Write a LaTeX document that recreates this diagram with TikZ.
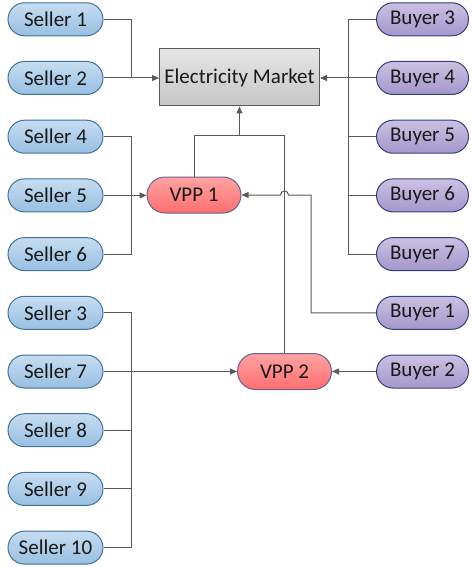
\documentclass[tikz,border=0pt]{standalone}
\usepackage{fontspec}
\setmainfont{Carlito}
\usetikzlibrary{arrows.meta}

\definecolor{sellerTop}{HTML}{C6DDF1}
\definecolor{sellerBot}{HTML}{98BFE2}
\definecolor{sellerLine}{HTML}{41719C}
\definecolor{buyerTop}{HTML}{CBC1E2}
\definecolor{buyerBot}{HTML}{A397CB}
\definecolor{buyerLine}{HTML}{34407F}
\definecolor{vppTop}{HTML}{FFA3A3}
\definecolor{vppBot}{HTML}{FF6E6E}
\definecolor{vppLine}{HTML}{6A628E}
\definecolor{wireGray}{HTML}{5A5A5A}

\tikzset{seller/.style={draw=sellerLine,line width=1,top color=sellerTop,bottom color=sellerBot,
   rounded corners=16.5pt,minimum width=95pt,minimum height=33pt,inner sep=1pt},
 buyer/.style={draw=buyerLine,line width=1,top color=buyerTop,bottom color=buyerBot,
   rounded corners=16.5pt,minimum width=92pt,minimum height=33pt,inner sep=1pt},
 vpp/.style={draw=vppLine,line width=1,top color=vppTop,bottom color=vppBot,
   rounded corners=18pt,minimum width=94pt,minimum height=36pt,inner sep=1pt},
 market/.style={draw=wireGray,line width=1,top color=gray!20,bottom color=gray!45,
   minimum width=160pt,minimum height=57pt,inner sep=1pt},
 wire/.style={draw=wireGray,line width=1},
 feed/.style={wire,-{Triangle[length=7pt,width=6pt]}}}

\begin{document}
\begin{tikzpicture}[x=1pt,y=-1pt,font=\fontsize{21}{24}\selectfont,text=black!90]
\useasboundingbox (0,0) rectangle (471,567);
\foreach \n/\r in {1/0,2/1,4/2,5/3,6/4,3/5,7/6,8/7,9/8,10/9}{
\node[seller] (s\n) at (55.5,{19.3+58.7*\r}) {Seller \n};}
\foreach \n/\r in {3/0,4/1,5/2,6/3,7/4,1/5,2/6}{
\node[buyer] (b\n) at (422.5,{19.3+58.7*\r}) {Buyer \n};}
\node[market] (mkt) at (239.5,77.5) {Electricity Market};
\node[vpp] (vpp1) at (194,195) {VPP 1};
\node[vpp] (vpp2) at (284.5,371.5) {VPP 2};
\coordinate (sbus) at (131,0);
\coordinate (bbus) at (348,0);
\coordinate (b1turn) at (311,0);
\coordinate (join) at (239.5,135);
% sellers 1,2 and buyers 3-7 to the market
\draw[wire] (s1.east) -| (s2.east -| sbus);
\draw[feed] (s2.east) -- (s2.east -| mkt.west);
\draw[wire] (b3.west) -| (b7.west -| bbus) -- (b7.west);
\draw[wire] (b5.west) -- (b5.west -| bbus);
\draw[wire] (b6.west) -- (b6.west -| bbus);
\draw[feed] (b4.west) -- (b4.west -| mkt.east);
% VPP 1
\draw[wire] (s4.east) -| (s6.east -| sbus) -- (s6.east);
\draw[feed] (s5.east) -- (s5.east -| vpp1.west);
\draw[feed] (b1.west) -| (vpp1.east -| b1turn) -- ([xshift=4pt]vpp1.east -| vpp2.north)
 arc[start angle=0,end angle=180,radius=4pt] -- (vpp1.east);
% VPP 2
\draw[wire] (s3.east) -| (s10.east -| sbus) -- (s10.east);
\draw[wire] (s8.east) -- (s8.east -| sbus);
\draw[wire] (s9.east) -- (s9.east -| sbus);
\draw[feed] (s7.east) -- (s7.east -| vpp2.west);
\draw[feed] (b2.west) -- (b2.west -| vpp2.east);
% both VPPs up to the market
\draw[wire] (vpp1.north) |- (join);
\draw[wire] (vpp2.north) |- (join);
\draw[feed] (join) -- (mkt.south);
\end{tikzpicture}
\end{document}
